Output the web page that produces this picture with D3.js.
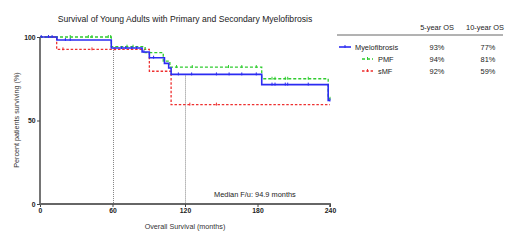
<!DOCTYPE html>
<html>
<head>
<meta charset="utf-8">
<script src="https://cdn.jsdelivr.net/npm/d3@7"></script>
<style>
  body { margin: 0; background: #fff; }
  svg { font-family: "Liberation Sans", Arial, sans-serif; }
</style>
</head>
<body>
<div id="chart"></div>
<script>
// Kaplan-Meier steps (months, % surviving)
var mfTimes = [0, 14, 59, 84.5, 90.5, 103, 106.5, 108.5, 183.5, 238.5, 240];
var mfSurv  = [100, 98.2, 93.4, 91, 87.6, 84.2, 81.4, 77.6, 71.5, 62, 62];
var pmfTimes = [0, 59, 87, 102, 107.5, 183.5, 238.5, 240];
var pmfSurv  = [100, 94.2, 90.6, 85.5, 82, 75, 63, 63];
var smfTimes = [0, 13.8, 90.5, 108.5, 240];
var smfSurv  = [100, 92.6, 79.5, 59.5, 59.5];

// censored observations (months)
var mfCensor = [1, 7, 10, 21, 25, 67.5, 71, 76, 80, 86, 94, 114.5, 125.5, 146, 156.5, 167, 179, 192, 194.5, 203, 205, 222, 240];
var pmfCensor = [25, 40, 43, 56.5, 58.5, 72, 77, 113, 126, 156, 167, 179, 192, 194.5, 203, 205, 222, 240];
var smfCensor = [19, 43, 62, 124, 146];

var seriesNames = ["Myelofibrosis", "PMF", "sMF"];
var os5 = ["93%", "94%", "92%"];
var os10 = ["77%", "81%", "59%"];
var refMonths = [60, 120];
var xTicks = [0, 60, 120, 180, 240];
var yTicks = [0, 50, 100];

var W = 520, H = 241;
var margin = {top: 37, left: 40, right: 190, bottom: 37};
var width = 330 - margin.left,
    height = 204 - margin.top;

var svg = d3.select("#chart").append("svg")
    .attr("width", W)
    .attr("height", H);

var g = svg.append("g")
    .attr("transform", "translate(" + margin.left + "," + margin.top + ")");

var x = d3.scaleLinear().domain([0, 240]).range([0, width]);
var y = d3.scaleLinear().domain([0, 100]).range([height, 0]);

// title
svg.append("text")
    .attr("x", 185).attr("y", 22)
    .attr("text-anchor", "middle")
    .attr("font-size", 8.6)
    .attr("fill", "#222")
    .text("Survival of Young Adults with Primary and Secondary Myelofibrosis");

function stepValue(times, surv, t) {
    var i = d3.bisectRight(times, t) - 1;
    return surv[Math.max(0, i)];
}

var series = [
    {times: mfTimes, surv: mfSurv, censor: mfCensor, color: "#2b2bf2", dash: null, w: 1.6},
    {times: pmfTimes, surv: pmfSurv, censor: pmfCensor, color: "#2fcc2f", dash: "3,2", w: 1.3},
    {times: smfTimes, surv: smfSurv, censor: smfCensor, color: "#ee3030", dash: "2.5,1.8", w: 1.3}
];

// reference lines at 5 and 10 years
refMonths.forEach(function(m) {
    var px = Math.round(x(m)) + 0.5;
    g.append("line")
        .attr("x1", px).attr("x2", px)
        .attr("y1", y(stepValue(mfTimes, mfSurv, m + 0.5)))
        .attr("y2", height)
        .attr("stroke", "#666")
        .attr("stroke-width", 0.8)
        .attr("stroke-dasharray", "1,1");
});

var line = d3.line()
    .x(function(d) { return x(d[0]); })
    .y(function(d) { return y(d[1]); })
    .curve(d3.curveStepAfter);

// draw red, green, then blue on top
[2, 1, 0].forEach(function(k) {
    var s = series[k];
    var pts = s.times.map(function(t, i) { return [t, s.surv[i]]; });
    g.append("path")
        .datum(pts)
        .attr("fill", "none")
        .attr("stroke", s.color)
        .attr("stroke-width", s.w)
        .attr("stroke-dasharray", s.dash)
        .attr("d", line);

    g.selectAll(null)
        .data(s.censor)
        .enter().append("line")
        .attr("x1", function(t) { return x(t); })
        .attr("x2", function(t) { return x(t); })
        .attr("y1", function(t) { return y(stepValue(s.times, s.surv, t)) - 2; })
        .attr("y2", function(t) { return y(stepValue(s.times, s.surv, t)) + 1; })
        .attr("stroke", s.color)
        .attr("stroke-width", 1);
});

// axes
var xAxis = d3.axisBottom(x).tickValues(xTicks).tickSize(3).tickPadding(1.5);
var yAxis = d3.axisLeft(y).tickValues(yTicks).tickSize(3).tickPadding(1.5);

var gx = g.append("g")
    .attr("transform", "translate(0," + height + ")")
    .call(xAxis);
var gy = g.append("g").call(yAxis);

[gx, gy].forEach(function(a) {
    a.select(".domain").attr("stroke", "#666").attr("stroke-width", 1.8);
    a.selectAll(".tick line").attr("stroke", "#444");
    a.selectAll(".tick text")
        .attr("font-size", 6.8)
        .attr("font-weight", "bold")
        .attr("fill", "#222");
});
gy.select(".domain").attr("d", "M0," + (height + 1) + "V0");
gx.select(".domain").attr("d", "M0,0H" + width + "V3");

// axis labels
svg.append("text")
    .attr("x", 185).attr("y", 229)
    .attr("text-anchor", "middle")
    .attr("font-size", 7.2)
    .attr("fill", "#333")
    .text("Overall Survival (months)");

svg.append("text")
    .attr("transform", "translate(19,120) rotate(-90)")
    .attr("text-anchor", "middle")
    .attr("font-size", 7.2)
    .attr("fill", "#333")
    .text("Percent patients surviving (%)");

svg.append("text")
    .attr("x", 214).attr("y", 197)
    .attr("font-size", 7.4)
    .attr("fill", "#222")
    .text("Median F/u: 94.9 months");

// legend table
var leg = svg.append("g");
var colX = [437, 485];
leg.selectAll(".hdr")
    .data(["5-year OS", "10-year OS"])
    .enter().append("text")
    .attr("x", function(d, i) { return colX[i]; })
    .attr("y", 30)
    .attr("text-anchor", "middle")
    .attr("font-size", 7.4)
    .attr("fill", "#222")
    .text(function(d) { return d; });

leg.append("line")
    .attr("x1", 337).attr("x2", 503)
    .attr("y1", 35).attr("y2", 35)
    .attr("stroke", "#555").attr("stroke-width", 0.9);

var rowY = [47, 59, 71];
var symX = [[339, 351], [362, 373], [362, 373]];
var txtX = [355, 378, 378];

seriesNames.forEach(function(name, i) {
    var s = series[i];
    leg.append("line")
        .attr("x1", symX[i][0]).attr("x2", symX[i][1])
        .attr("y1", rowY[i]).attr("y2", rowY[i])
        .attr("stroke", s.color)
        .attr("stroke-width", s.w)
        .attr("stroke-dasharray", s.dash);
    leg.append("line")
        .attr("x1", (symX[i][0] + symX[i][1]) / 2).attr("x2", (symX[i][0] + symX[i][1]) / 2)
        .attr("y1", rowY[i] - 2).attr("y2", rowY[i] + 1)
        .attr("stroke", s.color).attr("stroke-width", 1);
    leg.append("text")
        .attr("x", txtX[i]).attr("y", rowY[i] + 2.6)
        .attr("font-size", 7.4)
        .attr("fill", "#222")
        .text(name);
    leg.append("text")
        .attr("x", colX[0]).attr("y", rowY[i] + 2.6)
        .attr("text-anchor", "middle")
        .attr("font-size", 7.4)
        .attr("fill", "#222")
        .text(os5[i]);
    leg.append("text")
        .attr("x", colX[1] + 3).attr("y", rowY[i] + 2.6)
        .attr("text-anchor", "middle")
        .attr("font-size", 7.4)
        .attr("fill", "#222")
        .text(os10[i]);
});
</script>
</body>
</html>
